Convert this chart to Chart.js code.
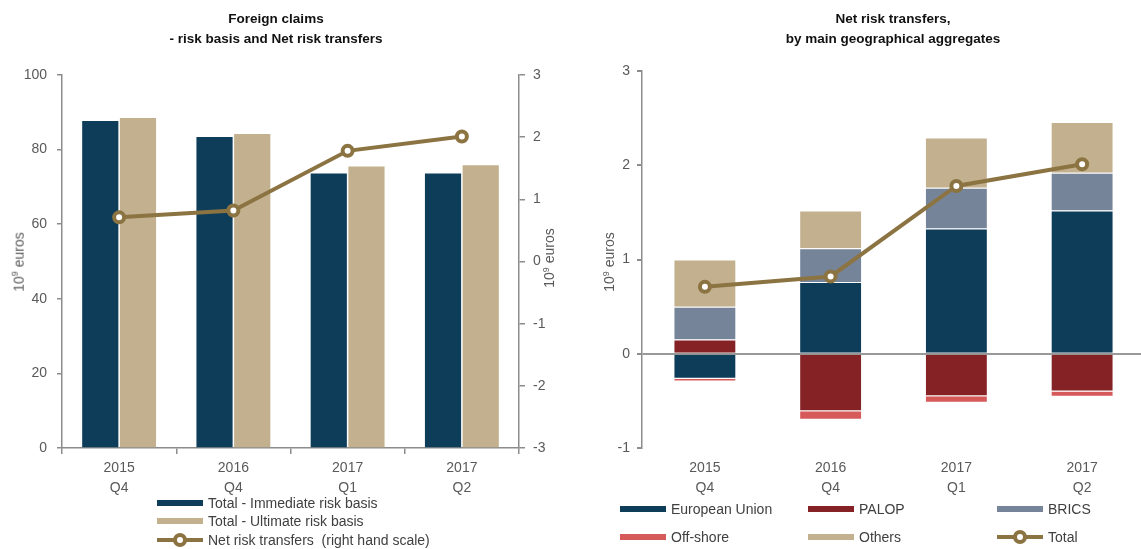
<!DOCTYPE html>
<html>
<head>
<meta charset="utf-8">
<script src="https://cdn.jsdelivr.net/npm/chart.js@4.4.1/dist/chart.umd.min.js"></script>
<style>
  html, body { margin: 0; padding: 0; background: #fff; }
  body { width: 1141px; height: 549px; overflow: hidden; position: relative;
         font-family: "Liberation Sans", Arial, sans-serif; }
  canvas { position: absolute; top: 0; }
  .title { position: absolute; font-weight: bold; font-size: 13.5px; color: #111;
           text-align: center; line-height: 20px; width: 400px; }
  .axt { position: absolute; font-size: 14px; color: #595959; white-space: nowrap;
         transform: translate(-50%, -50%) rotate(-90deg); }
  .axt sup { font-size: 9px; }
  .lg { position: absolute; font-size: 14px; color: #404040; white-space: nowrap;
        height: 18px; line-height: 18px; }
  .sw { position: absolute; left: 0; top: 6px; width: 46px; height: 6px; }
  .lg span { position: absolute; left: 51px; top: 0; }
  .mk { position: absolute; left: 0; top: 7px; width: 46px; height: 4px; background: #8b7442; }
  .mk i { position: absolute; left: 16px; top: -5px; width: 6px; height: 6px; border: 4px solid #8b7442;
          border-radius: 50%; background: #fff; }
</style>
</head>
<body>
<canvas id="claimsChart" width="570" height="549" style="left:0"></canvas>
<canvas id="transfersChart" width="590" height="549" style="left:575px"></canvas>

<div class="title" style="left:76px;top:9px">Foreign claims<br>- risk basis and Net risk transfers</div>
<div class="title" style="left:693px;top:9px">Net risk transfers,<br>by main geographical aggregates</div>

<div class="axt" style="left:18px;top:262px">10<sup>9</sup> euros</div>
<div class="axt" style="left:549px;top:258px">10<sup>9</sup> euros</div>
<div class="axt" style="left:609px;top:262px">10<sup>9</sup> euros</div>

<div class="lg" style="left:157px;top:494px"><div class="sw" style="background:#0e3d5a"></div><span>Total - Immediate risk basis</span></div>
<div class="lg" style="left:157px;top:512px"><div class="sw" style="background:#c2b08e"></div><span>Total - Ultimate risk basis</span></div>
<div class="lg" style="left:157px;top:531px"><div class="mk"><i></i></div><span>Net risk transfers&nbsp; (right hand scale)</span></div>

<div class="lg" style="left:620px;top:500px"><div class="sw" style="background:#0e3d5a"></div><span>European Union</span></div>
<div class="lg" style="left:808px;top:500px"><div class="sw" style="background:#852226"></div><span>PALOP</span></div>
<div class="lg" style="left:997px;top:500px"><div class="sw" style="background:#768499"></div><span>BRICS</span></div>
<div class="lg" style="left:620px;top:528px"><div class="sw" style="background:#d65a5a"></div><span>Off-shore</span></div>
<div class="lg" style="left:808px;top:528px"><div class="sw" style="background:#c2b08e"></div><span>Others</span></div>
<div class="lg" style="left:997px;top:528px"><div class="mk"><i></i></div><span>Total</span></div>

<script>
// ===================
// Dados
// ===================
const quarters = [["2015", "Q4"], ["2016", "Q4"], ["2017", "Q1"], ["2017", "Q2"]];

const immediateRisk = [87.7, 83.4, 73.6, 73.6];
const ultimateRisk = [88.5, 84.2, 75.5, 75.8];
const netRiskTransfers = [0.71, 0.82, 1.78, 2.01];

const europeanUnion = [-0.265, 0.76, 1.33, 1.52];
const palop = [0.15, -0.61, -0.45, -0.40];
const brics = [0.35, 0.36, 0.43, 0.40];
const offShore = [-0.03, -0.09, -0.07, -0.055];
const others = [0.50, 0.40, 0.535, 0.54];
const totalTransfers = [0.71, 0.82, 1.78, 2.01];

const axisGray = "#8c8c8c";
Chart.defaults.font.family = '"Liberation Sans", Arial, sans-serif';
Chart.defaults.font.size = 14;
Chart.defaults.color = "#595959";

const xLabelsFont = { size: 14, lineHeight: 1.43 };

function lineDataset(label, data) {
  return {
    type: "line",
    label: label,
    data: data,
    borderColor: "#8b7442",
    borderWidth: 4,
    pointRadius: 5,
    pointBorderWidth: 4,
    pointBackgroundColor: "#fff",
    pointBorderColor: "#8b7442",
    order: 0,
  };
}

// ===================
// Foreign claims
// ===================
new Chart(document.getElementById("claimsChart"), {
  type: "bar",
  data: {
    labels: quarters,
    datasets: [
      Object.assign(lineDataset("Net risk transfers  (right hand scale)", netRiskTransfers), { yAxisID: "y1" }),
      {
        label: "Total - Immediate risk basis",
        data: immediateRisk,
        backgroundColor: "#0e3d5a",
        yAxisID: "y",
        order: 1,
      },
      {
        label: "Total - Ultimate risk basis",
        data: ultimateRisk,
        backgroundColor: "#c2b08e",
        yAxisID: "y",
        order: 1,
      },
    ],
  },
  options: {
    responsive: false,
    animation: false,
    devicePixelRatio: 1,
    categoryPercentage: 0.66,
    barPercentage: 0.96,
    layout: { padding: { left: 0, right: 0, top: 75, bottom: 41 } },
    plugins: { legend: { display: false }, tooltip: { enabled: false } },
    scales: {
      x: {
        afterFit: (s) => { s.height = 60; },
        border: { color: axisGray, width: 1.5 },
        grid: { drawOnChartArea: false, color: axisGray, tickLength: 6, lineWidth: 1.5 },
        ticks: { padding: 4, font: xLabelsFont, maxRotation: 0 },
      },
      y: {
        position: "left",
        min: 0,
        max: 100,
        afterFit: (s) => { s.width = 62; },
        border: { color: axisGray, width: 1.5 },
        grid: { drawOnChartArea: false, color: axisGray, tickLength: 5, lineWidth: 1.5 },
        ticks: { stepSize: 20, padding: 10 },
      },
      y1: {
        position: "right",
        min: -3,
        max: 3,
        afterFit: (s) => { s.width = 51; },
        border: { color: axisGray, width: 1.5 },
        grid: { drawOnChartArea: false, color: axisGray, tickLength: 6, lineWidth: 1.5 },
        ticks: { stepSize: 1, padding: 8 },
      },
    },
  },
});

// ===================
// Net risk transfers por agregado
// ===================
function stackPart(label, data, color) {
  return {
    label: label,
    data: data,
    backgroundColor: color,
    borderColor: "#fff",
    borderWidth: 1,
    stack: "geo",
    order: 1,
  };
}

new Chart(document.getElementById("transfersChart"), {
  type: "bar",
  data: {
    labels: quarters,
    datasets: [
      Object.assign(lineDataset("Total", totalTransfers), { stack: "total" }),
      stackPart("European Union", europeanUnion, "#0e3d5a"),
      stackPart("PALOP", palop, "#852226"),
      stackPart("BRICS", brics, "#768499"),
      stackPart("Off-shore", offShore, "#d65a5a"),
      stackPart("Others", others, "#c2b08e"),
    ],
  },
  options: {
    responsive: false,
    animation: false,
    devicePixelRatio: 1,
    categoryPercentage: 0.5,
    barPercentage: 1,
    layout: { padding: { left: 0, right: 20, top: 71, bottom: 41 } },
    plugins: { legend: { display: false }, tooltip: { enabled: false } },
    scales: {
      x: {
        stacked: true,
        afterFit: (s) => { s.height = 60; },
        border: { display: false },
        grid: { display: false },
        ticks: { padding: 2, font: xLabelsFont, maxRotation: 0 },
      },
      y: {
        stacked: true,
        min: -1,
        max: 3,
        afterFit: (s) => { s.width = 67; },
        border: { color: axisGray, width: 1.5 },
        grid: {
          color: (ctx) => (ctx.tick && ctx.tick.value === 0 ? "#999" : "rgba(0,0,0,0)"),
          tickColor: axisGray,
          lineWidth: 2,
          tickLength: 5,
        },
        ticks: { stepSize: 1, padding: 7 },
      },
    },
  },
});
</script>
</body>
</html>
